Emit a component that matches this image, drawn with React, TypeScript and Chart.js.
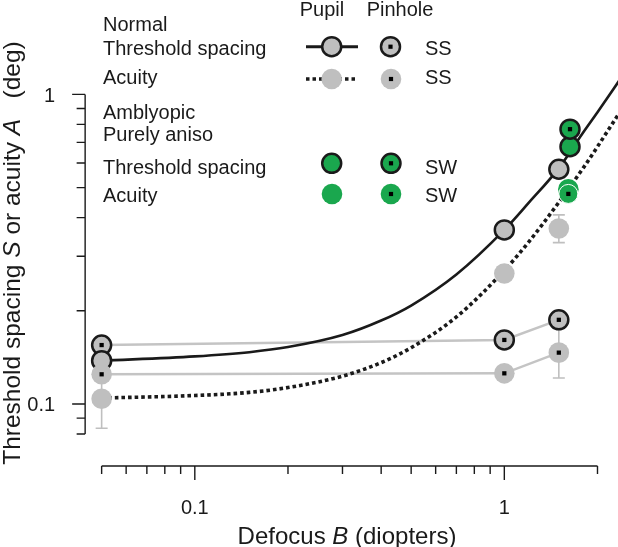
import React, { useEffect, useRef } from "react";
import { Chart, registerables } from "chart.js";

Chart.register(...registerables);

const FONT = '"Liberation Sans", Arial, Helvetica, sans-serif';

// ---------- data ----------
const normalB = [0.05, 1, 1.5];
const normalPupilThreshold = [0.138, 0.365, 0.573];
const normalPinholeThreshold = [0.155, 0.161, 0.187];
const normalPupilAcuity = [0.104, 0.264, 0.369];
const normalPinholeAcuity = [0.1247, 0.1256, 0.1465];
const normalPupilAcuityErrLow = [0.0835, null, 0.332];
const normalPupilAcuityErrHigh = [0.1295, null, 0.408];
const normalPinholeAcuityErrLow = [null, null, 0.1213];
const normalPinholeAcuityErrHigh = [null, null, 0.177];

const amblyThresholdB = [1.63];
const amblyPupilThreshold = [0.678];
const amblyPinholeThreshold = [0.772];
const amblyAcuityB = [1.61];
const amblyPupilAcuity = [0.494];
const amblyPinholeAcuity = [0.477];

const fitB = [0.05, 0.1, 0.15, 0.2, 0.3, 0.4, 0.5, 0.7, 1, 1.2, 1.5, 1.8, 2, 2.35];
const fitThreshold = [0.138, 0.1425, 0.147, 0.1527, 0.167, 0.186, 0.208, 0.262, 0.365, 0.447, 0.578, 0.755, 0.876, 1.107];
const fitAcuity = [0.1045, 0.1065, 0.109, 0.113, 0.123, 0.136, 0.152, 0.191, 0.27, 0.334, 0.448, 0.579, 0.678, 0.87];

const xTicks = [0.05, 0.06, 0.07, 0.08, 0.09, 0.1, 0.2, 0.3, 0.4, 0.5, 0.6, 0.7, 0.8, 0.9, 1, 2];
const xTickLabels = ["0.1", "1"];
const yTicks = [0.08, 0.09, 0.1, 0.2, 0.3, 0.4, 0.5, 0.6, 0.7, 0.8, 0.9, 1];
const yTickLabels = ["0.1", "1"];

const GRAY = "#bfbfbf";
const GRAY_LINE = "#c4c4c4";
const GREEN = "#1aa74e";
const INK = "#1a1a1a";

function pts(xs: number[], ys: number[]) {
  return xs.map((x, i) => ({ x, y: ys[i] }));
}

function drawMixed(
  ctx: CanvasRenderingContext2D,
  parts: [string, boolean][],
  x: number,
  y: number,
  size: number
) {
  let total = 0;
  const widths = parts.map(([t, it]) => {
    ctx.font = `${it ? "italic " : ""}${size}px ${FONT}`;
    const w = ctx.measureText(t).width;
    total += w;
    return w;
  });
  let cx = x - total / 2;
  parts.forEach(([t, it], i) => {
    ctx.font = `${it ? "italic " : ""}${size}px ${FONT}`;
    ctx.textAlign = "left";
    ctx.fillText(t, cx, y);
    cx += widths[i];
  });
}

function marker(
  ctx: CanvasRenderingContext2D,
  x: number,
  y: number,
  fill: string,
  border: boolean,
  dot: boolean
) {
  ctx.save();
  ctx.beginPath();
  ctx.arc(x, y, border ? 9.5 : 10.3, 0, Math.PI * 2);
  ctx.fillStyle = fill;
  ctx.fill();
  if (border) {
    ctx.lineWidth = 2.5;
    ctx.strokeStyle = INK;
    ctx.stroke();
  }
  if (dot) {
    ctx.fillStyle = "#000";
    ctx.fillRect(x - 2.1, y - 2.1, 4.2, 4.2);
  }
  ctx.restore();
}

const errorBarPlugin = {
  id: "errorBars",
  beforeDatasetsDraw(chart: any) {
    const { ctx } = chart;
    const xs = chart.scales.x;
    const ys = chart.scales.y;
    const sets: [number[], (number | null)[], (number | null)[]][] = [
      [normalB, normalPupilAcuityErrLow, normalPupilAcuityErrHigh],
      [normalB, normalPinholeAcuityErrLow, normalPinholeAcuityErrHigh],
    ];
    ctx.save();
    ctx.strokeStyle = GRAY;
    ctx.lineWidth = 1.6;
    sets.forEach(([bx, lo, hi]) => {
      bx.forEach((b, i) => {
        const l = lo[i];
        const h = hi[i];
        if (l == null || h == null) return;
        const px = xs.getPixelForValue(b);
        const pl = ys.getPixelForValue(l);
        const ph = ys.getPixelForValue(h);
        ctx.beginPath();
        ctx.moveTo(px, pl);
        ctx.lineTo(px, ph);
        ctx.moveTo(px - 6, pl);
        ctx.lineTo(px + 6, pl);
        ctx.moveTo(px - 6, ph);
        ctx.lineTo(px + 6, ph);
        ctx.stroke();
      });
    });
    ctx.restore();
  },
};

const axesPlugin = {
  id: "rAxes",
  afterDraw(chart: any) {
    const { ctx } = chart;
    const xs = chart.scales.x;
    const ys = chart.scales.y;
    ctx.save();
    ctx.strokeStyle = INK;
    ctx.fillStyle = INK;
    ctx.lineWidth = 1.4;

    // x axis
    const xAxisY = ys.getPixelForValue(yTicks[0]) + 32;
    const x0 = xs.getPixelForValue(xTicks[0]);
    const x1 = xs.getPixelForValue(xTicks[xTicks.length - 1]);
    ctx.beginPath();
    ctx.moveTo(x0, xAxisY);
    ctx.lineTo(x1, xAxisY);
    xTicks.forEach((t) => {
      const p = xs.getPixelForValue(t);
      const major = xTickLabels.includes(String(t));
      ctx.moveTo(p, xAxisY);
      ctx.lineTo(p, xAxisY + (major ? 14 : 8));
    });
    ctx.stroke();
    ctx.font = `20px ${FONT}`;
    ctx.textAlign = "center";
    ctx.textBaseline = "alphabetic";
    xTicks.forEach((t) => {
      if (xTickLabels.includes(String(t))) {
        ctx.fillText(String(t), xs.getPixelForValue(t), xAxisY + 48);
      }
    });

    // y axis
    const yAxisX = x0 - 16.5;
    const y0 = ys.getPixelForValue(yTicks[0]);
    const y1 = ys.getPixelForValue(yTicks[yTicks.length - 1]);
    ctx.beginPath();
    ctx.moveTo(yAxisX, y0);
    ctx.lineTo(yAxisX, y1);
    yTicks.forEach((t) => {
      const p = ys.getPixelForValue(t);
      const major = yTickLabels.includes(String(t));
      ctx.moveTo(yAxisX, p);
      ctx.lineTo(yAxisX - (major ? 13 : 8.5), p);
    });
    ctx.stroke();
    ctx.textAlign = "right";
    ctx.textBaseline = "middle";
    yTicks.forEach((t) => {
      if (yTickLabels.includes(String(t))) {
        ctx.fillText(String(t), yAxisX - 30, ys.getPixelForValue(t) + 2);
      }
    });

    // axis titles
    ctx.textBaseline = "alphabetic";
    drawMixed(ctx, [["Defocus ", false], ["B", true], [" (diopters)", false]], 347, 544, 24);
    ctx.save();
    ctx.translate(19.5, 253);
    ctx.rotate(-Math.PI / 2);
    drawMixed(
      ctx,
      [
        ["Threshold spacing ", false],
        ["S", true],
        [" or acuity ", false],
        ["A", true],
        ["   (deg)", false],
      ],
      0,
      0,
      24.5
    );
    ctx.restore();

    // legend
    ctx.font = `20px ${FONT}`;
    ctx.textAlign = "left";
    ctx.fillStyle = INK;
    const lx = 103;
    ctx.fillText("Normal", lx, 31);
    ctx.fillText("Threshold spacing", lx, 55);
    ctx.fillText("Acuity", lx, 83.5);
    ctx.fillText("Amblyopic", lx, 118.5);
    ctx.fillText("Purely aniso", lx, 140.5);
    ctx.fillText("Threshold spacing", lx, 173.5);
    ctx.fillText("Acuity", lx, 202);
    ctx.textAlign = "center";
    ctx.fillText("Pupil", 322, 15.5);
    ctx.fillText("Pinhole", 400, 15.5);
    ctx.textAlign = "left";
    ctx.fillText("SS", 425, 55);
    ctx.fillText("SS", 425, 83.5);
    ctx.fillText("SW", 425, 173.5);
    ctx.fillText("SW", 425, 202);

    // legend lines
    ctx.strokeStyle = INK;
    ctx.lineWidth = 3;
    ctx.beginPath();
    ctx.moveTo(306, 46.7);
    ctx.lineTo(358, 46.7);
    ctx.stroke();
    ctx.lineWidth = 3.5;
    ctx.setLineDash([3.5, 3]);
    ctx.beginPath();
    ctx.moveTo(306, 79);
    ctx.lineTo(358, 79);
    ctx.stroke();
    ctx.setLineDash([]);

    marker(ctx, 331.7, 46.7, GRAY, true, false);
    marker(ctx, 390.5, 46.7, GRAY, true, true);
    marker(ctx, 331.7, 79, GRAY, false, false);
    marker(ctx, 391, 79, GRAY, false, true);
    marker(ctx, 331.7, 163.3, GREEN, true, false);
    marker(ctx, 391, 163.3, GREEN, true, true);
    marker(ctx, 332, 194, GREEN, false, false);
    marker(ctx, 391, 194, GREEN, false, true);

    ctx.restore();
  },
};

export default function App() {
  const ref = useRef<HTMLCanvasElement | null>(null);

  useEffect(() => {
    document.body.style.margin = "0";
    const canvas = ref.current;
    if (!canvas) return;

    const circle = (data: any, fill: string, border: string | null, order: number, bw = 2.5) => ({
      data,
      showLine: false,
      pointRadius: border ? 9.5 : 10.3,
      pointHoverRadius: border ? 9.5 : 10.3,
      pointBackgroundColor: fill,
      pointBorderColor: border || fill,
      pointBorderWidth: border ? bw : 0,
      order,
    });

    const line = (
      data: any,
      color: string,
      width: number,
      order: number,
      dash: number[] = [],
      smooth = true
    ) => ({
      data,
      showLine: true,
      borderColor: color,
      borderWidth: width,
      borderDash: dash,
      pointRadius: 0,
      pointHoverRadius: 0,
      ...(smooth ? { cubicInterpolationMode: "monotone" as const } : { tension: 0 }),
      order,
      fill: false,
    });

    const dots = {
      data: [
        ...pts(normalB, normalPinholeThreshold),
        ...pts(normalB, normalPinholeAcuity),
        ...pts(amblyThresholdB, amblyPinholeThreshold),
        ...pts(amblyAcuityB, amblyPinholeAcuity),
      ],
      showLine: false,
      pointStyle: "rect" as const,
      pointRadius: 3,
      pointHoverRadius: 3,
      pointBackgroundColor: "#000",
      pointBorderWidth: 0,
      order: 0,
    };

    const chart = new Chart(canvas, {
      type: "scatter",
      data: {
        datasets: [
          line(pts(normalB, normalPinholeThreshold), GRAY_LINE, 2.5, 20, [], false),
          line(pts(normalB, normalPinholeAcuity), GRAY_LINE, 2.5, 20, [], false),
          line(pts(fitB, fitThreshold), INK, 2.6, 15),
          line(pts(fitB, fitAcuity), INK, 3.6, 15, [3.6, 3]),
          circle(pts(normalB, normalPinholeThreshold), GRAY, INK, 10),
          circle(pts(normalB, normalPupilThreshold), GRAY, INK, 9),
          circle(pts(normalB, normalPinholeAcuity), GRAY, null, 8),
          circle(pts(normalB, normalPupilAcuity), GRAY, null, 7),
          circle(pts(amblyAcuityB, amblyPupilAcuity), GREEN, null, 6),
          circle(pts(amblyAcuityB, amblyPinholeAcuity), GREEN, "#ffffff", 5, 1),
          circle(pts(amblyThresholdB, amblyPupilThreshold), GREEN, INK, 4),
          circle(pts(amblyThresholdB, amblyPinholeThreshold), GREEN, INK, 3),
          dots,
        ] as any,
      },
      options: {
        responsive: false,
        animation: false,
        events: [],
        layout: { padding: 0, autoPadding: false },
        plugins: {
          legend: { display: false },
          tooltip: { enabled: false },
          title: { display: false },
        },
        scales: {
          x: {
            type: "logarithmic",
            min: 0.023474,
            max: 2.3296,
            bounds: "data",
            display: false,
          },
          y: {
            type: "logarithmic",
            min: 0.034518,
            max: 2.0177,
            bounds: "data",
            display: false,
          },
        },
      },
      plugins: [errorBarPlugin, axesPlugin],
    });

    return () => chart.destroy();
  }, []);

  return (
    <div style={{ position: "absolute", left: 0, top: 0, width: 618, height: 547, background: "#fff" }}>
      <canvas ref={ref} width={618} height={547} style={{ display: "block" }} />
    </div>
  );
}
